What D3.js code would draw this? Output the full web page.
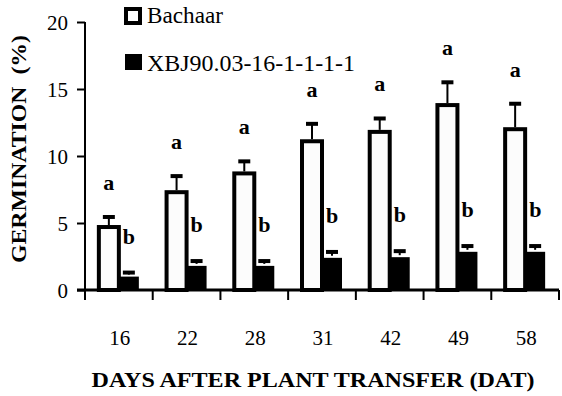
<!DOCTYPE html>
<html><head><meta charset="utf-8">
<script src="https://cdn.jsdelivr.net/npm/d3@7"></script>
<style>body{margin:0;background:#fff}svg{display:block}</style>
</head><body>
<script>
const categories = ["16","22","28","31","42","49","58"];
const seriesNames = ["Bachaar","XBJ90.03-16-1-1-1-1"];
const bachaar = [4.7, 7.3, 8.7, 11.1, 11.8, 13.8, 12.0];
const bachaarErr = [0.75, 1.2, 0.9, 1.3, 1.0, 1.7, 1.9];
const xbj = [1.0, 1.8, 1.8, 2.4, 2.45, 2.85, 2.85];
const xbjErr = [0.3, 0.36, 0.36, 0.44, 0.45, 0.43, 0.43];
const lettersA = ["a","a","a","a","a","a","a"];
const lettersB = ["b","b","b","b","b","b","b"];
const yTicks = [0,5,10,15,20];
const yTitle = "GERMINATION  (%)";
const xTitle = "DAYS AFTER PLANT TRANSFER (DAT)";

const W = 562, H = 396;
const svg = d3.select("body").append("svg").attr("width", W).attr("height", H);
const serif = "Liberation Serif";
const serifReg = "Liberation Serif";

const y = d3.scaleLinear().domain([0,20]).range([290,22]);
const x = d3.scaleBand().domain(categories).range([85,559]).padding(0);
const x1 = d3.scaleBand().domain(seriesNames).range([-20,20]);
const cx = d => x(d) + x.bandwidth()/2;

// Y axis
const yAxis = d3.axisLeft(y).tickValues(yTicks).tickSize(8).tickPadding(9);
const gy = svg.append("g").attr("transform","translate(85,0)").call(yAxis)
  .attr("font-family",serifReg).attr("font-size",22);
gy.select(".domain").attr("stroke","#000").attr("stroke-width",2).attr("d","M0,22V291");
gy.selectAll(".tick line").attr("stroke","#000").attr("stroke-width",2);
gy.selectAll(".tick text").attr("fill","#000").attr("font-weight","normal")
  .attr("textLength",d=>String(d).length*10.5).attr("lengthAdjust","spacingAndGlyphs");

// X axis
const xAxis = d3.axisBottom(x).tickSize(0).tickPadding(39);
const gx = svg.append("g").attr("transform","translate(0,290)").call(xAxis)
  .attr("font-family",serifReg).attr("font-size",22);
gx.select(".domain").remove();
gx.selectAll(".tick text").attr("fill","#000").attr("dx",1)
  .attr("textLength",d=>String(d).length*10.5).attr("lengthAdjust","spacingAndGlyphs");

// band boundary ticks
const bounds = categories.map(c => x(c)).concat([x.range()[1]]);
svg.append("g").selectAll("line").data(bounds).join("line")
  .attr("x1",d=>d).attr("x2",d=>d).attr("y1",290).attr("y2",300)
  .attr("stroke","#000").attr("stroke-width",2);

const groups = categories.map((c,i)=>({c,i}));

// black bars
svg.append("g").selectAll("rect").data(groups).join("rect")
  .attr("x", d => cx(d.c) + x1(seriesNames[1]))
  .attr("width", x1.bandwidth())
  .attr("y", d => y(xbj[d.i]))
  .attr("height", d => y(0) - y(xbj[d.i]))
  .attr("fill","#000");

// white bars
svg.append("g").selectAll("rect").data(groups).join("rect")
  .attr("x", d => cx(d.c) + x1(seriesNames[0]))
  .attr("width", x1.bandwidth())
  .attr("y", d => y(bachaar[d.i]))
  .attr("height", d => y(0) - y(bachaar[d.i]))
  .attr("fill","#fcfcfc").attr("stroke","#000").attr("stroke-width",4);

// x axis line on top
svg.append("line").attr("x1",77).attr("x2",559).attr("y1",290).attr("y2",290)
  .attr("stroke","#000").attr("stroke-width",3);

// error bars
function errBars(vals, errs, name){
  const g = svg.append("g");
  const ex = d => cx(d.c) + x1(name) + x1.bandwidth()/2;
  g.selectAll("line.v").data(groups).join("line").attr("class","v")
    .attr("x1",ex).attr("x2",ex)
    .attr("y1",d=>y(vals[d.i])-2).attr("y2",d=>y(vals[d.i]+errs[d.i]))
    .attr("stroke","#000").attr("stroke-width",2);
  g.selectAll("line.c").data(groups).join("line").attr("class","c")
    .attr("x1",d=>ex(d)-6).attr("x2",d=>ex(d)+6)
    .attr("y1",d=>y(vals[d.i]+errs[d.i])).attr("y2",d=>y(vals[d.i]+errs[d.i]))
    .attr("stroke","#000").attr("stroke-width",4);
}
errBars(bachaar, bachaarErr, seriesNames[0]);
errBars(xbj, xbjErr, seriesNames[1]);

// letters
svg.append("g").selectAll("text").data(groups).join("text")
  .attr("x", d => cx(d.c) + x1(seriesNames[0]) + x1.bandwidth()/2)
  .attr("y", d => y(bachaar[d.i]+bachaarErr[d.i]) - 27)
  .attr("text-anchor","middle").attr("font-family",serif).attr("font-weight","bold")
  .attr("font-size",22).text(d=>lettersA[d.i]);
svg.append("g").selectAll("text").data(groups).join("text")
  .attr("x", d => cx(d.c) + 4)
  .attr("y", d => y(xbj[d.i]+xbjErr[d.i]) - 29)
  .attr("text-anchor","start").attr("font-family",serif).attr("font-weight","bold")
  .attr("font-size",22).text(d=>lettersB[d.i]);

// legend
svg.append("rect").attr("x",126).attr("y",9).attr("width",14).attr("height",14)
  .attr("fill","#fff").attr("stroke","#000").attr("stroke-width",4);
svg.append("text").attr("x",147).attr("y",23).attr("font-family",serifReg).attr("font-size",23)
  .attr("textLength",76).attr("lengthAdjust","spacingAndGlyphs").text(seriesNames[0]);
svg.append("rect").attr("x",125).attr("y",54).attr("width",17).attr("height",16).attr("fill","#000");
svg.append("text").attr("x",147).attr("y",71).attr("font-family",serifReg).attr("font-size",23)
  .attr("textLength",208).attr("lengthAdjust","spacingAndGlyphs").text(seriesNames[1]);

// axis titles
svg.append("text").attr("transform","translate(26,149) rotate(-90)")
  .attr("text-anchor","middle").attr("font-family",serif).attr("font-weight","bold")
  .attr("font-size",22).attr("xml:space","preserve")
  .attr("textLength",228).attr("lengthAdjust","spacingAndGlyphs").text(yTitle);
svg.append("text").attr("x",313).attr("y",387).attr("text-anchor","middle")
  .attr("font-family",serif).attr("font-weight","bold").attr("font-size",22)
  .attr("textLength",443).attr("lengthAdjust","spacingAndGlyphs").text(xTitle);
</script>
</body></html>
